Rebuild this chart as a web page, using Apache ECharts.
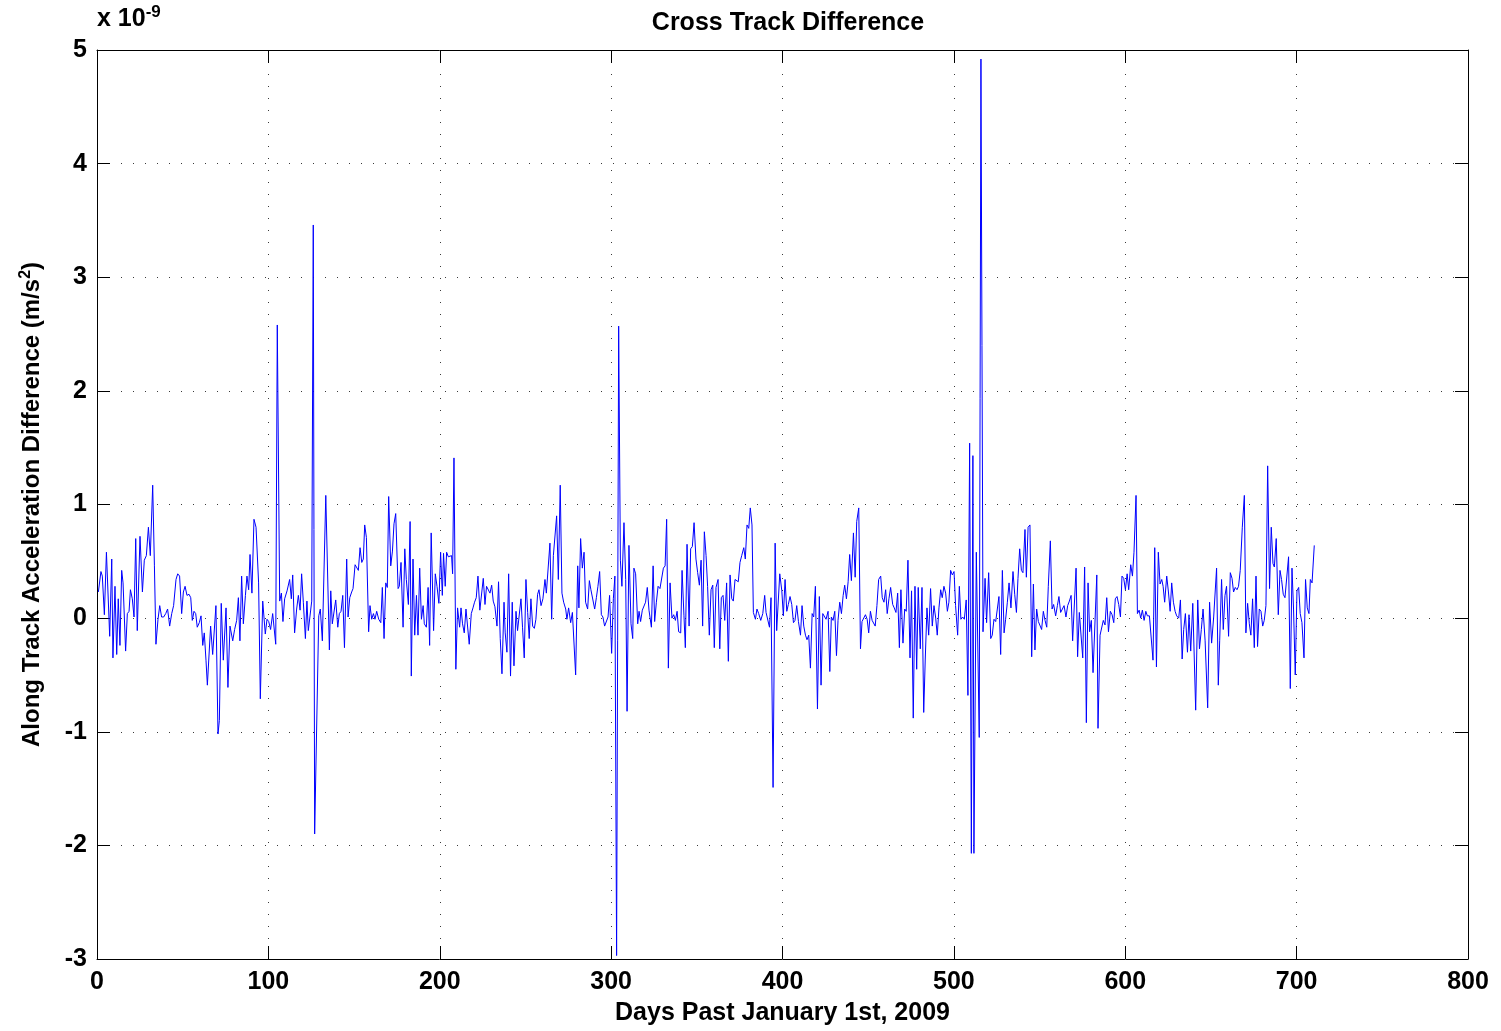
<!DOCTYPE html>
<html><head><meta charset="utf-8">
<script src="https://cdn.jsdelivr.net/npm/echarts@6/dist/echarts.min.js"></script>
<style>html,body{margin:0;padding:0;background:#fff}#c{width:1501px;height:1031px}</style>
</head><body><div id="c"></div>
<script>
const titleText = "Cross Track Difference";
const xName = "Days Past January 1st, 2009";
const yNameMain = "Along Track Acceleration Difference (m/s";
const yNameSup = "2";
const yNameEnd = ")";
const xTicks = [0,100,200,300,400,500,600,700,800];
const yTicks = [-3,-2,-1,0,1,2,3,4,5];

const days = [
0.8,2.3,3.1,4.3,5.5,7.4,8.6,9.3,10.5,11.5,12.4,13.4,14.4,15.2,16.7,17.7,18.7,19.5,20.6,21.6,22.6,23.5,25.1,26.5,27.6,28.8,30.0,31.1,32.5,33.5,34.4,35.6,36.6,37.7,38.9,40.1,41.2,42.4,43.6,44.7,46.1,47.1,48.2,49.4,50.4,51.4,52.5,53.7,54.7,55.6,56.6,57.6,58.5,59.7,60.7,61.7,62.6,63.6,
64.4,66.3,67.5,69.4,70.6,71.4,72.5,73.7,75.3,76.4,77.6,79.2,80.3,81.5,82.5,83.4,84.4,85.4,86.6,87.5,88.5,89.3,90.4,91.6,92.8,94.3,95.3,96.7,98.2,99.2,100.2,101.3,102.5,104.3,105.2,106.6,107.6,108.5,109.5,110.9,112.4,113.4,114.2,115.3,116.5,117.5,118.5,119.4,120.4,121.6,122.5,123.3,125.3,126.2,127.0,
129.4,130.3,131.5,133.5,135.6,136.4,137.3,138.3,139.3,140.5,141.4,142.4,143.4,144.4,145.7,146.5,147.5,148.6,149.4,150.6,151.5,152.5,153.5,154.5,155.4,156.2,157.2,158.5,159.3,160.3,161.3,162.2,163.2,164.4,165.6,166.5,167.5,168.5,169.4,170.2,171.4,172.4,173.3,174.3,175.7,176.4,177.4,178.6,179.6,180.5,181.7,182.7,183.4,184.4,185.4,186.4,187.3,188.3,189.3,190.3,191.0,192.2,193.2,
194.1,195.0,196.4,197.4,198.4,199.5,200.5,201.5,202.2,203.2,204.0,205.0,205.9,206.9,207.5,208.3,209.4,210.4,211.6,212.4,213.3,214.3,215.3,216.2,217.2,218.4,219.4,220.3,221.3,222.3,223.4,224.4,225.4,226.4,227.3,228.3,229.3,230.3,231.2,232.2,233.4,234.3,235.3,236.3,237.5,238.2,239.2,240.2,241.3,242.3,243.3,244.5,245.4,246.4,247.4,248.3,249.3,250.3,251.3,252.2,253.2,254.2,255.2,256.1,257.1,257.9,
259.1,260.2,261.4,262.2,263.2,264.3,265.3,266.3,267.2,268.2,269.2,270.3,271.3,272.3,273.5,274.2,275.2,276.4,277.4,278.3,279.3,280.5,281.2,282.2,283.2,284.2,285.1,286.3,287.3,288.2,289.2,290.4,291.4,292.3,293.3,294.3,295.2,296.2,297.2,298.2,299.1,300.3,301.3,302.2,303.2,304.4,305.4,306.3,307.5,308.5,309.3,310.4,311.6,312.6,313.3,314.3,315.5,316.3,317.2,318.2,319.2,320.1,321.1,322.1,
323.5,324.5,325.4,326.4,327.4,328.5,329.5,330.5,331.5,332.4,333.4,334.4,335.5,336.5,337.5,338.5,339.4,340.6,341.4,342.5,343.3,344.3,345.5,346.4,347.4,348.4,349.5,350.5,351.5,352.5,353.4,354.4,355.4,356.3,357.3,358.3,359.3,360.2,361.2,362.4,363.4,364.3,365.3,366.3,367.4,368.4,369.4,370.4,371.3,372.3,373.3,374.2,375.2,376.2,377.4,378.3,379.3,380.3,381.2,382.2,383.0,384.2,385.1,386.1,387.3,
388.5,389.6,390.4,391.4,392.4,393.3,394.5,395.7,396.6,398.4,399.6,400.5,401.5,402.5,403.4,404.4,405.4,406.4,407.3,408.3,409.3,410.5,411.4,412.4,413.4,414.3,415.3,416.3,417.3,418.2,419.2,420.4,421.5,422.5,423.5,424.5,425.4,426.6,427.6,428.5,429.5,430.5,431.5,432.4,433.4,434.4,435.4,436.3,437.3,438.3,439.2,440.2,441.4,442.4,443.3,444.5,445.5,446.4,447.4,448.4,449.4,450.3,451.3,452.3,
453.0,454.1,455.1,456.1,457.3,458.2,459.2,460.2,461.1,462.1,463.1,464.3,465.2,466.2,467.2,468.2,469.1,470.3,471.3,472.2,473.2,474.4,475.3,476.3,477.3,478.3,479.2,480.4,481.4,482.4,483.3,484.3,485.3,486.4,487.4,488.4,489.4,490.3,491.3,492.3,493.2,494.2,495.2,496.2,497.1,498.1,499.1,500.1,501.0,502.2,503.2,504.1,505.1,506.1,507.2,508.2,509.2,510.2,510.7,511.1,511.7,512.3,513.1,514.8,515.8,
517.0,518.2,519.1,520.3,521.5,522.4,523.4,524.4,525.4,526.3,527.3,528.3,529.3,530.2,531.2,532.2,533.3,534.5,535.5,536.5,537.4,538.4,539.4,540.3,541.5,542.3,543.3,544.4,545.4,546.4,547.3,548.3,549.3,550.3,551.2,552.2,553.2,554.2,555.1,556.3,557.3,558.2,559.4,560.4,561.3,562.3,563.3,564.3,565.4,566.4,567.4,568.4,569.3,571.3,572.2,573.2,574.2,575.2,576.3,577.3,578.3,579.2,580.2,581.2,
583.4,584.1,585.3,586.3,587.2,588.2,589.2,590.2,591.3,592.3,593.3,594.2,595.2,596.2,597.2,598.1,599.1,600.1,601.1,602.0,603.2,604.2,605.1,606.3,607.1,608.1,609.0,610.0,611.0,612.0,612.9,614.1,615.1,616.2,617.2,618.2,619.3,620.3,621.3,622.1,623.0,624.2,625.2,626.2,627.1,628.1,629.1,630.0,631.2,632.2,633.2,634.1,635.1,636.3,637.2,638.2,639.4,641.1,642.3,643.3,644.4,645.4,646.6,
648.1,649.2,650.4,651.6,652.3,653.3,654.3,655.1,656.2,657.2,658.2,659.1,660.3,661.3,662.3,663.2,664.2,665.2,666.1,667.1,668.3,669.5,670.4,671.4,672.4,673.3,674.3,675.3,676.3,677.2,678.2,679.2,680.2,681.1,682.1,683.1,684.2,685.2,686.2,687.0,688.1,689.3,690.3,691.2,692.2,693.2,694.2,695.3,696.3,697.3,698.2,699.2,700.2,701.2,702.1,703.1,704.3,705.2,706.2,707.2,708.0,709.0,710.3
];

const values = [
0.23,0.41,0.37,0.03,0.58,-0.16,0.52,-0.35,0.28,-0.32,0.17,-0.24,0.42,0.31,-0.29,0.04,0.06,0.25,0.17,0.01,0.70,-0.11,0.72,0.23,0.51,0.55,0.80,0.55,1.17,0.46,-0.23,-0.01,0.11,0.01,0.01,0.04,0.08,-0.07,0.04,0.11,0.34,0.39,0.37,0.04,0.23,0.28,0.20,0.21,0.18,-0.02,0.06,0.04,-0.08,-0.04,0.02,-0.24,-0.13,-0.37,
-0.59,-0.07,-0.32,0.11,-1.02,-0.90,0.13,-0.37,0.09,-0.61,-0.07,-0.20,-0.10,-0.02,0.18,-0.20,0.37,-0.05,0.20,0.37,0.25,0.56,0.22,0.87,0.80,0.31,-0.71,0.15,-0.14,-0.01,-0.03,-0.10,0.04,-0.23,2.58,0.15,0.22,-0.03,0.17,0.24,0.34,0.17,0.38,-0.13,0.08,0.20,0.07,0.39,0.14,-0.18,0.15,-0.11,0.15,3.46,-1.90,
0.02,0.08,-0.20,1.08,-0.28,0.24,-0.05,-0.04,0.16,-0.08,0.04,0.06,0.20,-0.26,0.52,0.01,0.18,0.23,0.26,0.47,0.47,0.42,0.62,0.49,0.52,0.82,0.71,-0.12,0.11,-0.01,0.04,-0.01,0.06,-0.01,-0.04,0.27,-0.18,0.31,0.27,1.07,0.46,0.59,0.83,0.92,0.26,0.28,0.49,-0.08,0.61,0.34,0.12,0.85,-0.51,0.52,-0.15,0.20,-0.15,0.44,-0.01,0.11,-0.05,-0.08,0.27,
-0.24,0.75,-0.11,0.39,0.28,0.13,0.58,0.20,0.57,0.28,0.58,0.54,0.55,0.55,0.39,1.41,-0.45,0.09,-0.08,0.09,-0.05,-0.13,0.08,0.07,-0.23,0.04,0.09,0.14,0.18,0.37,0.07,0.08,0.35,0.12,0.28,0.29,0.22,0.29,0.15,0.10,-0.07,0.32,-0.18,-0.49,0.14,-0.13,-0.30,0.39,-0.51,0.14,-0.42,0.06,-0.11,-0.10,0.17,-0.08,-0.35,0.34,0.05,-0.18,0.17,-0.07,-0.09,-0.01,0.21,0.25,
0.11,0.17,0.34,0.22,0.22,0.66,-0.01,0.55,0.55,0.90,0.34,1.17,0.22,0.14,0.08,-0.01,0.09,-0.04,0.05,0.04,-0.50,0.46,0.09,0.70,0.44,0.58,0.14,0.08,0.33,0.25,0.25,0.08,0.18,0.28,0.41,0.03,0.01,-0.07,-0.07,0.01,0.20,-0.31,0.17,0.37,-2.97,2.57,0.51,0.28,0.84,0.34,-0.82,0.64,-0.05,-0.18,0.44,0.39,-0.05,0.06,-0.03,0.07,0.08,0.14,0.27,0.07,
-0.08,0.46,-0.03,0.14,0.28,0.26,0.25,0.44,0.46,0.87,-0.44,0.31,0.00,0.03,-0.02,0.06,-0.12,-0.13,0.42,0.02,-0.26,0.65,-0.07,0.61,0.63,0.84,0.52,0.40,0.29,0.51,-0.07,0.76,0.55,0.28,-0.15,0.25,0.29,-0.26,0.27,0.34,-0.27,0.18,0.20,-0.02,0.31,-0.38,0.38,0.17,0.15,0.34,0.35,0.32,0.49,0.55,0.62,0.52,0.82,0.79,0.97,0.82,0.05,-0.01,0.08,0.04,-0.02,
0.04,0.20,0.05,0.06,-0.08,0.18,-1.49,0.66,-0.11,0.39,0.24,0.02,0.34,0.06,0.12,0.19,0.12,-0.04,-0.02,0.11,-0.03,-0.15,0.11,-0.07,-0.15,-0.19,-0.15,-0.44,0.04,0.01,0.28,-0.80,0.19,-0.59,0.04,0.05,-0.01,0.06,-0.47,0.01,-0.02,0.06,-0.33,-0.02,0.14,0.04,0.20,0.29,0.17,0.32,0.56,0.33,0.75,0.36,0.85,0.97,-0.27,-0.03,-0.02,0.03,-0.01,-0.13,0.06,-0.02,
-0.01,-0.07,0.11,0.34,0.37,0.18,0.14,0.25,0.04,0.17,0.27,0.12,0.09,0.05,0.22,-0.26,0.25,-0.22,0.08,0.06,0.51,-0.35,0.24,-0.88,0.28,-0.45,0.27,-0.27,0.27,-0.83,-0.36,0.09,-0.15,0.26,-0.07,0.11,0.00,-0.15,0.09,0.25,0.18,0.28,0.22,0.06,0.14,0.42,0.38,0.41,0.11,-0.15,0.28,-0.01,0.01,-0.01,0.16,-0.68,1.54,-2.07,-2.07,1.43,-2.07,-2.07,0.58,-1.05,4.92,
-0.12,0.35,-0.04,0.40,-0.18,-0.15,-0.01,-0.03,-0.03,0.19,-0.32,0.42,-0.13,-0.01,0.14,0.31,0.09,0.41,0.21,0.05,0.35,0.61,0.42,0.40,0.78,0.36,0.80,0.82,-0.34,0.30,-0.28,0.08,-0.03,-0.04,-0.10,0.06,-0.02,-0.08,0.28,0.68,0.08,0.12,0.02,0.11,0.19,0.05,0.06,0.11,0.01,0.11,0.15,0.20,-0.20,0.44,-0.34,0.05,0.05,-0.35,0.45,-0.92,0.31,-0.12,-0.02,-0.48,
0.38,-0.97,-0.15,-0.16,-0.02,-0.06,0.18,-0.12,0.06,0.03,-0.04,0.17,0.19,0.12,0.01,0.37,0.35,0.25,0.39,0.25,0.47,0.37,0.58,1.08,0.04,0.07,0.00,0.07,-0.02,0.06,0.02,0.02,0.03,-0.37,0.62,-0.43,0.58,0.30,0.34,0.28,0.14,0.37,0.23,0.06,0.31,0.14,0.06,0.02,0.00,0.16,-0.36,-0.10,0.04,-0.30,0.03,-0.29,0.13,-0.81,0.16,-0.27,-0.10,0.08,-0.20,
-0.79,0.14,-0.22,0.01,0.02,0.44,-0.59,-0.20,0.34,-0.10,0.20,0.28,-0.16,0.40,0.35,0.23,0.27,0.25,0.28,0.42,0.80,1.08,-0.13,0.13,-0.05,-0.15,0.17,-0.26,0.37,-0.25,0.08,0.06,-0.07,-0.02,0.11,1.34,0.26,0.80,0.48,0.45,0.70,0.03,0.42,0.34,0.21,0.18,0.17,0.54,-0.62,0.44,0.08,-0.50,0.24,0.27,0.04,-0.04,-0.35,0.34,0.09,0.04,0.34,0.31,0.64
];

const data = days.map((d, i) => [d, values[i]]);
const FONT = "'Liberation Sans', Arial, Helvetica, sans-serif";
const FS = 25;

const chart = echarts.init(document.getElementById('c'), null, {renderer: 'canvas'});
const gridLine = {show: true, lineStyle: {color: '#3a3a3a', width: 1, type: [1, 11]}};
const tickIn = {show: true, inside: true, length: 13, lineStyle: {color: '#000', width: 1}};
const boxLine = {show: true, onZero: false, lineStyle: {color: '#000', width: 1}};
const txt = {fontFamily: FONT, fontSize: FS, fontWeight: 'bold', color: '#000'};
chart.setOption({
  animation: false,
  backgroundColor: '#fff',
  title: {text: titleText, left: 783, top: 6, textAlign: 'center', textStyle: txt},
  grid: {left: 97, right: 33, top: 50, bottom: 70, containLabel: false},
  graphic: [{type: 'text', left: 97, top: 4, style: {
    text: 'x 10{s|-9}', fill: '#000', font: 'bold ' + FS + 'px ' + FONT,
    rich: {s: {fontSize: 17, fontWeight: 'bold', fontFamily: FONT, verticalAlign: 'top', padding: [0,0,14,0]}}
  }}],
  xAxis: [{
    type: 'value', min: 0, max: 800, interval: 100, position: 'bottom',
    name: xName, nameLocation: 'middle', nameGap: 42, nameTextStyle: txt,
    axisLine: boxLine, axisTick: tickIn, splitLine: gridLine,
    axisLabel: Object.assign({margin: 11,
      formatter: v => xTicks.includes(v) ? String(v) : ''}, txt)
  }, {
    type: 'value', min: 0, max: 800, interval: 100, position: 'top',
    axisLine: boxLine, axisTick: tickIn, axisLabel: {show: false}, splitLine: {show: false}
  }],
  yAxis: [{
    type: 'value', min: -3, max: 5, interval: 1, position: 'left',
    name: yNameMain + '{s|' + yNameSup + '}' + yNameEnd, nameLocation: 'middle', nameGap: 51, nameRotate: 90,
    nameTextStyle: Object.assign({}, txt, {fontSize: 24, rich: {s: {fontSize: 16, fontWeight: 'bold', fontFamily: FONT, color: '#000', verticalAlign: 'top', padding: [0,0,12,0]}}}),
    axisLine: boxLine, axisTick: tickIn, splitLine: gridLine,
    axisLabel: Object.assign({margin: 10,
      formatter: v => yTicks.includes(v) ? String(v) : ''}, txt)
  }, {
    type: 'value', min: -3, max: 5, interval: 1, position: 'right',
    axisLine: boxLine, axisTick: tickIn, axisLabel: {show: false}, splitLine: {show: false}
  }],
  series: [{
    type: 'line', data: data, xAxisIndex: 0, yAxisIndex: 0,
    showSymbol: false, symbol: 'none', smooth: false,
    lineStyle: {color: '#0000ff', width: 1}, clip: true
  }]
});
</script></body></html>
